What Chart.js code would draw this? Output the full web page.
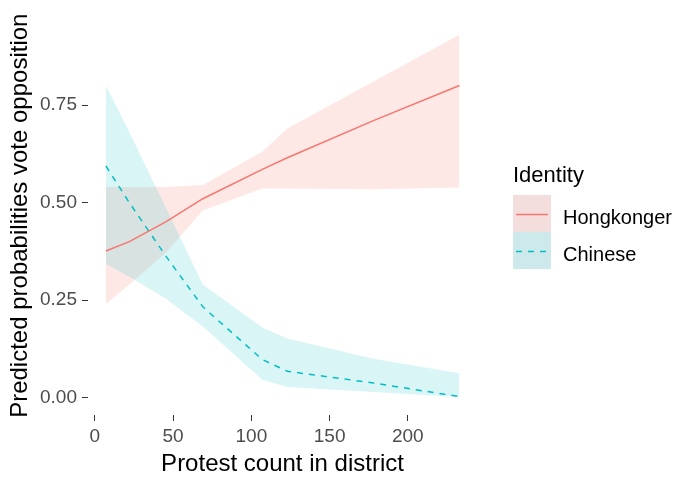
<!DOCTYPE html>
<html>
<head>
<meta charset="utf-8">
<script src="https://cdn.jsdelivr.net/npm/chart.js@4"></script>
<style>
  html, body { margin: 0; padding: 0; background: #fff; }
  #wrap { width: 680px; height: 478px; }
</style>
</head>
<body>
<div id="wrap"><canvas id="chart" width="680" height="478"></canvas></div>
<script>
// --- data ---
const protestCount = [7, 22, 45, 69, 107, 123, 178, 233];

const hkFit   = [0.376, 0.40, 0.45, 0.51, 0.585, 0.615, 0.71, 0.80];
const hkUpper = [0.54, 0.54, 0.54, 0.545, 0.63, 0.69, 0.81, 0.93];
const hkLower = [0.24, 0.29, 0.37, 0.48, 0.536, 0.536, 0.534, 0.539];

const cnFit   = [0.594, 0.50, 0.365, 0.233, 0.098, 0.068, 0.038, 0.003];
const cnUpper = [0.80, 0.68, 0.49, 0.29, 0.18, 0.152, 0.10, 0.063];
const cnLower = [0.343, 0.31, 0.255, 0.183, 0.046, 0.028, 0.015, 0.002];

const xTicks = [0, 50, 100, 150, 200];
const yTicks = [0, 0.25, 0.5, 0.75];

const seriesNames = ['Hongkonger', 'Chinese'];

// --- colours (ggplot default hues) ---
const RED = '#F8766D';
const CYAN = '#00BFC4';
const FONT = '"Liberation Sans", Arial, sans-serif';

function pts(ys) {
    return protestCount.map((x, i) => ({ x: x, y: ys[i] }));
}

// legend drawn in the ggplot style, right of the panel
const ggLegend = {
    id: 'ggLegend',
    afterDraw(chart) {
        const ctx = chart.ctx;
        ctx.save();
        ctx.fillStyle = '#000';
        ctx.textBaseline = 'alphabetic';
        ctx.textAlign = 'left';
        ctx.font = '22px ' + FONT;
        ctx.fillText('Identity', 513, 182);

        const keys = [
            { top: 195, bg: '#F3DDDD', color: RED, dash: [], base: 224 },
            { top: 232, bg: '#CEE9EB', color: CYAN, dash: [6, 6], base: 261 }
        ];
        keys.forEach((k, i) => {
            ctx.fillStyle = k.bg;
            ctx.fillRect(513, k.top, 38, 37);
            ctx.strokeStyle = k.color;
            ctx.lineWidth = 1.5;
            ctx.setLineDash(k.dash);
            ctx.beginPath();
            ctx.moveTo(516, k.top + 19.5);
            ctx.lineTo(548, k.top + 19.5);
            ctx.stroke();
            ctx.setLineDash([]);
            ctx.fillStyle = '#000';
            ctx.font = '20px ' + FONT;
            ctx.fillText(seriesNames[i], 563, k.base);
        });
        ctx.restore();
    }
};

const ctx = document.getElementById('chart').getContext('2d');
new Chart(ctx, {
    type: 'line',
    data: {
        datasets: [
            { label: 'Hongkonger', data: pts(hkFit), borderColor: RED, borderWidth: 1.5,
              pointRadius: 0, fill: false, order: 0 },
            { label: 'Chinese', data: pts(cnFit), borderColor: CYAN, borderWidth: 1.5,
              borderDash: [6, 6], pointRadius: 0, fill: false, order: 0 },
            { label: 'hk upper', data: pts(hkUpper), borderWidth: 0, pointRadius: 0,
              backgroundColor: 'rgba(248,118,109,0.17)', fill: '+1', order: 2 },
            { label: 'hk lower', data: pts(hkLower), borderWidth: 0, pointRadius: 0,
              fill: false, order: 2 },
            { label: 'cn upper', data: pts(cnUpper), borderWidth: 0, pointRadius: 0,
              backgroundColor: 'rgba(0,191,196,0.15)', fill: '+1', order: 1 },
            { label: 'cn lower', data: pts(cnLower), borderWidth: 0, pointRadius: 0,
              fill: false, order: 1 }
        ]
    },
    options: {
        responsive: false,
        animation: false,
        events: [],
        layout: { padding: { top: 13, right: 203, left: 0, bottom: 0 } },
        plugins: {
            legend: { display: false },
            tooltip: { enabled: false }
        },
        scales: {
            x: {
                type: 'linear',
                min: -4.4,
                max: 244.2,
                afterBuildTicks: s => { s.ticks = xTicks.map(v => ({ value: v })); },
                afterFit: s => { s.height = 63; },
                grid: { drawOnChartArea: false, drawTicks: true, tickLength: 6, color: '#333', lineWidth: 1 },
                border: { display: false },
                ticks: { color: '#4D4D4D', font: { family: FONT, size: 19 }, padding: 4,
                         maxRotation: 0, callback: v => String(v) },
                title: { display: true, text: 'Protest count in district', color: '#000',
                         font: { family: FONT, size: 24, lineHeight: 1.1 }, padding: { top: 0, bottom: 0 } }
            },
            y: {
                type: 'linear',
                min: -0.044,
                max: 0.977,
                afterBuildTicks: s => { s.ticks = yTicks.map(v => ({ value: v })); },
                afterFit: s => { s.width = 88; },
                grid: { drawOnChartArea: false, drawTicks: true, tickLength: 6, color: '#333', lineWidth: 1 },
                border: { display: false },
                ticks: { color: '#4D4D4D', font: { family: FONT, size: 19 }, padding: 5,
                         callback: v => Number(v).toFixed(2) },
                title: { display: true, text: 'Predicted probabilities vote opposition', color: '#000',
                         font: { family: FONT, size: 24, lineHeight: 1.2 }, padding: { top: 6, bottom: 0 } }
            }
        }
    },
    plugins: [ggLegend]
});
</script>
</body>
</html>
